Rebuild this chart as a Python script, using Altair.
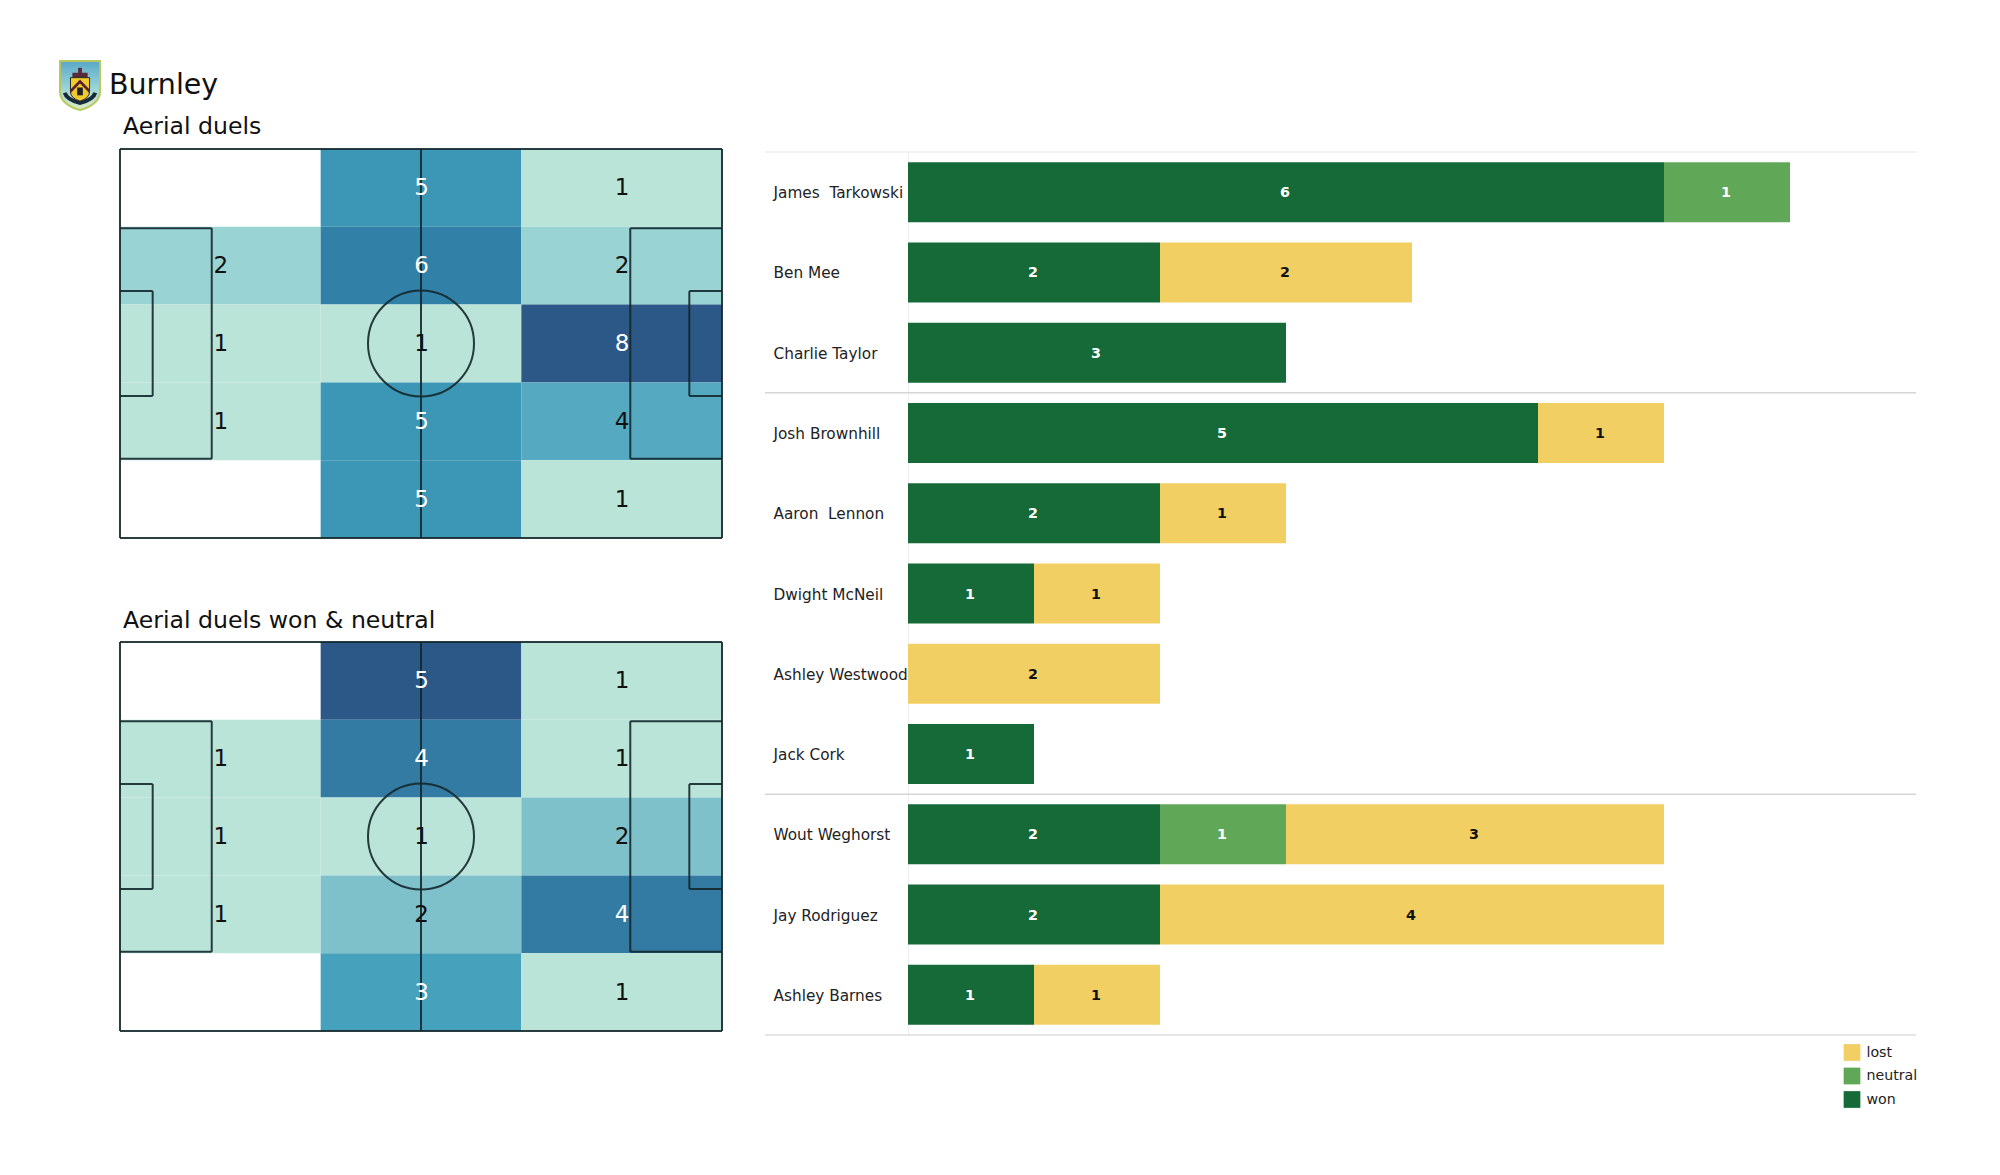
import urllib.parse
import altair as alt
import pandas as pd

FONT = "DejaVu Sans"

# ---- heat-map data (columns left/middle/right, rows top to bottom)
title_main = "Burnley"
title_all = "Aerial duels"
title_won = "Aerial duels won & neutral"
cols_x0 = [0, 35, 70]
rows_y0 = [0, 13.6, 27.2, 40.8, 54.4]
grid_all = [[0, 5, 1], [2, 6, 2], [1, 1, 8], [1, 5, 4], [0, 5, 1]]
grid_won = [[0, 5, 1], [1, 4, 1], [1, 1, 2], [1, 2, 4], [0, 3, 1]]
stops_t = [0, 0.143, 0.25, 0.43, 0.5, 0.57, 0.72, 0.75, 1]
stops_c = ["#bbe4d9", "#9ad3d3", "#7fc1cb", "#55a9c1", "#46a1bc", "#3c96b5", "#317fa6", "#337ba2", "#2b5886"]

# ---- pitch outline in metres
seg_x = [0, 105, 0, 0, 52.5, 0, 16, 0, 105, 89, 105, 0, 5.7, 0, 105, 99.3, 105]
seg_x2 = [105, 105, 105, 0, 52.5, 16, 16, 16, 89, 89, 89, 5.7, 5.7, 5.7, 99.3, 99.3, 99.3]
seg_y = [0, 0, 68, 68, 0, 13.84, 13.84, 54.16, 13.84, 13.84, 54.16, 24.84, 24.84, 43.16, 24.84, 24.84, 43.16]
seg_y2 = [0, 68, 68, 0, 68, 13.84, 54.16, 54.16, 13.84, 54.16, 54.16, 24.84, 43.16, 43.16, 24.84, 43.16, 43.16]

# ---- bars
players = ["James\u00a0\u00a0Tarkowski", "Ben Mee", "Charlie Taylor", "Josh Brownhill", "Aaron\u00a0\u00a0Lennon",
           "Dwight McNeil", "Ashley Westwood", "Jack Cork", "Wout Weghorst", "Jay Rodriguez", "Ashley Barnes"]
won = [6, 2, 3, 5, 2, 1, 0, 1, 2, 2, 1]
neutral = [1, 0, 0, 0, 0, 0, 0, 0, 1, 0, 0]
lost = [0, 2, 0, 1, 1, 1, 2, 0, 3, 4, 1]
outcomes = ["lost", "neutral", "won"]
outcome_colors = ["#f2cf63", "#60a857", "#166a38"]
sep_top = ["Josh Brownhill", "Wout Weghorst"]
sep_light = ["James\u00a0\u00a0Tarkowski"]
sep_bottom = ["Ashley Barnes"]

crest_svg = """<svg xmlns='http://www.w3.org/2000/svg' viewBox='0 0 44 52'>
<defs><linearGradient id='g' x1='0' y1='0' x2='0' y2='1'><stop offset='0' stop-color='#58a8c8'/><stop offset='.55' stop-color='#9ad4d8'/><stop offset='1' stop-color='#dcecc0'/></linearGradient></defs>
<path d='M1 1 H43 V32 Q43 45 22 51 Q1 45 1 32 Z' fill='url(#g)' stroke='#b9c85a' stroke-width='2'/>
<path d='M14 13 H30 V18 H14 Z' fill='#5a2a3a'/><rect x='20' y='8' width='4' height='6' fill='#5a2a3a'/>
<path d='M12 18 H32 V32 Q32 39 22 42 Q12 39 12 32 Z' fill='#f0c92c' stroke='#222' stroke-width='1'/>
<path d='M12 30 L22 20 L32 30 L32 34 L22 24 L12 34 Z' fill='#5a1f2e'/>
<path d='M19 28 h6 v8 h-6 z' fill='#222'/>
<path d='M4 34 Q6 42 22 46 Q38 42 40 34 L36 33 Q34 39 22 42 Q10 39 8 33 Z' fill='#182a3a'/>
</svg>"""
crest_url = "data:image/svg+xml," + urllib.parse.quote(crest_svg)


def pitch(grid, title, title_y, header=False):
    vmax = max(max(r) for r in grid)
    cells = []
    for r, row in enumerate(grid):
        for c, v in enumerate(row):
            if v:
                t = (v - 1) / (vmax - 1)
                cells.append(dict(x=cols_x0[c], x2=cols_x0[c] + 35, y=rows_y0[r], y2=rows_y0[r] + 13.6,
                                  v=v, t=t, tc="#ffffff" if t >= 0.5 else "#111111",
                                  mx=cols_x0[c] + 17.5, my=rows_y0[r] + 6.8))
    df = pd.DataFrame(cells)
    xs = alt.Scale(domain=[0, 105], nice=False, zero=False)
    ys = alt.Scale(domain=[68, 0], nice=False, zero=False)
    rect = alt.Chart(df).mark_rect(strokeWidth=0).encode(
        x=alt.X("x:Q", scale=xs, axis=None), x2="x2:Q",
        y=alt.Y("y:Q", scale=ys, axis=None), y2="y2:Q",
        fill=alt.Fill("t:Q", scale=alt.Scale(domain=stops_t, range=stops_c), legend=None))
    segs = pd.DataFrame(dict(x=seg_x, x2=seg_x2, y=seg_y, y2=seg_y2))
    lines = alt.Chart(segs).mark_rule(color="#14282c", strokeWidth=2, opacity=0.9).encode(
        x=alt.X("x:Q", scale=xs, axis=None), x2="x2:Q",
        y=alt.Y("y:Q", scale=ys, axis=None), y2="y2:Q")
    circle = alt.Chart(pd.DataFrame(dict(x=[52.5], y=[34]))).mark_point(
        shape="circle", filled=False, size=11236, color="#14282c", strokeWidth=2, opacity=0.9).encode(
        x=alt.X("x:Q", scale=xs, axis=None), y=alt.Y("y:Q", scale=ys, axis=None))
    nums = alt.Chart(df).mark_text(font=FONT, fontSize=23, baseline="middle", align="center", dx=0.5, dy=0.5).encode(
        x=alt.X("mx:Q", scale=xs, axis=None), y=alt.Y("my:Q", scale=ys, axis=None),
        text="v:Q", color=alt.Color("tc:N", scale=None))
    ttl = alt.Chart(pd.DataFrame(dict(s=[title]))).mark_text(
        font=FONT, fontSize=23.6, align="left", baseline="middle", color="#111111").encode(
        x=alt.value(3), y=alt.value(title_y), text="s:N")
    layers = [rect, lines, circle, nums, ttl]
    if header:
        layers.append(alt.Chart(pd.DataFrame(dict(s=[title_main]))).mark_text(
            font=FONT, fontSize=28.5, align="left", baseline="middle", color="#111111").encode(
            x=alt.value(-11), y=alt.value(-64), text="s:N"))
        layers.append(alt.Chart(pd.DataFrame(dict(u=[crest_url]))).mark_image(
            width=42, height=51, aspect=False).encode(
            x=alt.value(-40), y=alt.value(-63.5), url="u:N"))
    return alt.layer(*layers).properties(width=602, height=389)


rows = []
for i, p in enumerate(players):
    start = 0
    for name, val in (("won", won[i]), ("neutral", neutral[i]), ("lost", lost[i])):
        if val:
            rows.append(dict(player=p, outcome=name, value=val, s0=start, s1=start + val, mid=start + val / 2,
                             tc="#111111" if name == "lost" else "#ffffff"))
            start += val
bar_df = pd.DataFrame(rows)

yscale = alt.Scale(domain=players, range=[3, 886], paddingInner=0, paddingOuter=0)
xscale = alt.Scale(domain=[0, 8], nice=False, zero=True)

bars = alt.Chart(bar_df).mark_bar(size=60, strokeWidth=0, opacity=1).encode(
    x=alt.X("s0:Q", scale=xscale, axis=None), x2="s1:Q",
    y=alt.Y("player:N", scale=yscale, title=None, axis=alt.Axis(
        orient="left", ticks=False, grid=False, domain=True, domainColor="#eeeeee", domainWidth=1,
        labelAlign="left", labelPadding=135, labelLimit=400, labelFont=FONT, labelFontSize=15.3,
        labelColor="#222222", labelBaseline="middle", labelOffset=1)),
    color=alt.Color("outcome:N", scale=alt.Scale(domain=outcomes, range=outcome_colors), legend=alt.Legend(
        orient="none", legendX=1723.5, legendY=895, title=None, padding=0, symbolType="square", symbolSize=280,
        symbolStrokeWidth=0, symbolOpacity=1, labelFont=FONT, labelFontSize=14.2, labelColor="#222222",
        rowPadding=6.5, labelOffset=6)))
labels = alt.Chart(bar_df).mark_text(font=FONT, fontSize=14.3, fontWeight="bold", baseline="middle", align="center",
                                     dx=-1, dy=1).encode(
    x=alt.X("mid:Q", scale=xscale, axis=None),
    y=alt.Y("player:N", scale=yscale, title=None),
    text="value:Q", color=alt.Color("tc:N", scale=None))
rule_top = alt.Chart(pd.DataFrame(dict(player=sep_top))).mark_rule(color="#d6d6d6", strokeWidth=1.5).encode(
    x=alt.value(-143), x2=alt.value(1008),
    y=alt.Y("player:N", scale=yscale, bandPosition=0, title=None))
rule_light = alt.Chart(pd.DataFrame(dict(player=sep_light))).mark_rule(color="#e6e6e6", strokeWidth=1.2).encode(
    x=alt.value(-143), x2=alt.value(1008),
    y=alt.Y("player:N", scale=yscale, bandPosition=0, title=None))
rule_bot = alt.Chart(pd.DataFrame(dict(player=sep_bottom))).mark_rule(color="#dedede", strokeWidth=1.5).encode(
    x=alt.value(-143), x2=alt.value(1008),
    y=alt.Y("player:N", scale=yscale, bandPosition=1, title=None))
bar_chart = alt.layer(rule_top, rule_light, rule_bot, bars, labels).properties(width=1008, height=886)

left = alt.vconcat(pitch(grid_all, title_all, -22.5, header=True), pitch(grid_won, title_won, -21.5),
                   spacing=104, bounds="flush")
chart = alt.hconcat(left, bar_chart, spacing=788, bounds="flush").properties(
    padding={"left": 51, "top": 52, "right": 0, "bottom": 0}, background="white"
).configure_view(stroke=None)
chart.save("out.html", embed_options={"renderer": "svg", "actions": False})
